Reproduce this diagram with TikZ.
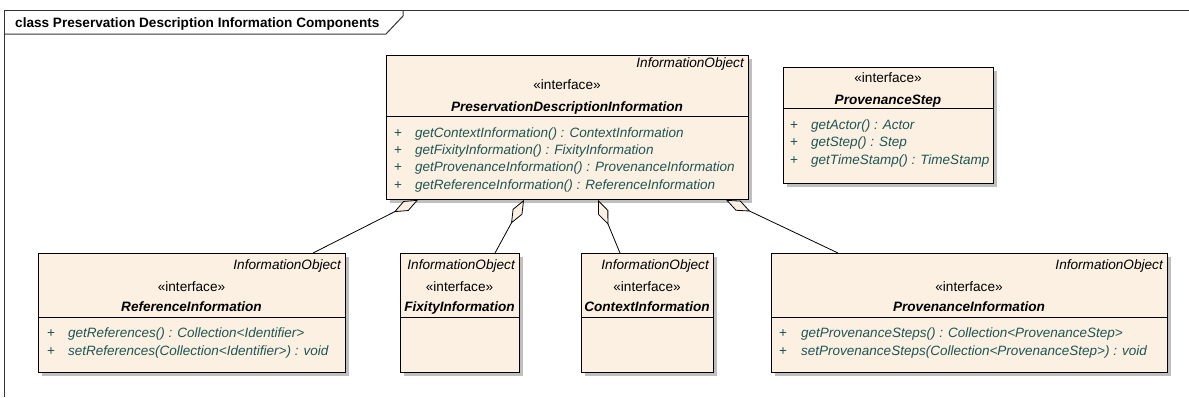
\documentclass[tikz,border=0pt]{standalone}
\usepackage{fontspec}
\setmainfont{Liberation Sans}
\usetikzlibrary{arrows.meta, positioning, shadows}
\definecolor{boxfill}{RGB}{251,240,225}
\definecolor{opcolor}{RGB}{30,85,85}
\tikzset{%
	cls/.style={draw, rectangle, anchor=north west, inner sep=0mm, line width=0.9pt, fill=boxfill,%
		drop shadow={shadow xshift=4pt, shadow yshift=-4pt, fill=black!25, opacity=1}},
	txt/.style={inner sep=0mm, font=\fontsize{13.6}{17}\selectfont},
	parent/.style={txt, anchor=base east, font=\fontsize{13.6}{17}\selectfont\itshape},
	stereo/.style={txt, anchor=base},
	cname/.style={txt, anchor=base, font=\fontsize{13.6}{17}\selectfont\bfseries\itshape},
	plus/.style={txt, anchor=base west, text=opcolor},
	op/.style={txt, anchor=base west, text=opcolor, font=\fontsize{13.5}{17}\selectfont\itshape},
	divider/.style={line width=0.9pt},
	agg/.style={{Diamond[fill=boxfill, length=27pt, width=11pt]}-, line width=0.8pt},
	frame/.style={draw=black!80, line width=1pt},
	title/.style={txt, anchor=base west, font=\fontsize{13.6}{17}\selectfont\bfseries}
}
\begin{document}
\begin{tikzpicture}[x=1pt, y=-1pt]
	\useasboundingbox (0,0) rectangle (1189,397);
	% diagram frame
	\draw[frame] (1189,10) -- (4,10) -- (4,397);
	\draw[frame] (4,34) -- (386,34) -- (403,16) -- (403,10);
	\node[title] (title) at (15,27) {class Preservation Description Information Components};

	% classes
	\node[cls, minimum width=362pt, minimum height=144pt] (pdi) at (386,55) {};
	\node[cls, minimum width=210pt, minimum height=116pt] (step) at (783,67) {};
	\node[cls, minimum width=307pt, minimum height=119pt] (ref) at (38,253) {};
	\node[cls, minimum width=119pt, minimum height=119pt] (fix) at (400,253) {};
	\node[cls, minimum width=132pt, minimum height=119pt] (ctx) at (581,253) {};
	\node[cls, minimum width=396pt, minimum height=119pt] (prov) at (771,253) {};

	\draw[divider] (pdi.west |- 0,116) -- (pdi.east |- 0,116);
	\draw[divider] (step.west |- 0,108) -- (step.east |- 0,108);
	\draw[divider] (ref.west |- 0,317) -- (ref.east |- 0,317);
	\draw[divider] (fix.west |- 0,317) -- (fix.east |- 0,317);
	\draw[divider] (ctx.west |- 0,317) -- (ctx.east |- 0,317);
	\draw[divider] (prov.west |- 0,317) -- (prov.east |- 0,317);

	% PreservationDescriptionInformation
	\node[parent] (pdi-io) at (744,67.5) {InformationObject};
	\node[stereo] (pdi-st) at (567,89.5) {«interface»};
	\node[cname] (pdi-name) at (567,111.5) {PreservationDescriptionInformation};
	\node[plus] (pdi-p1) at (394,137.5) {+};
	\node[plus] (pdi-p2) at (394,154.5) {+};
	\node[plus] (pdi-p3) at (394,171.5) {+};
	\node[plus] (pdi-p4) at (394,189) {+};
	\node[op] (pdi-op1) at (415,137.5) {getContextInformation() : ContextInformation};
	\node[op] (pdi-op2) at (415,154.5) {getFixityInformation() : FixityInformation};
	\node[op] (pdi-op3) at (415,171.5) {getProvenanceInformation() : ProvenanceInformation};
	\node[op] (pdi-op4) at (415,189) {getReferenceInformation() : ReferenceInformation};

	% ProvenanceStep
	\node[stereo] (step-st) at (888,82.5) {«interface»};
	\node[cname] (step-name) at (888,104.5) {ProvenanceStep};
	\node[plus] (step-p1) at (790,129.5) {+};
	\node[plus] (step-p2) at (790,146.5) {+};
	\node[plus] (step-p3) at (790,164) {+};
	\node[op] (step-op1) at (811,129.5) {getActor() : Actor};
	\node[op] (step-op2) at (811,146.5) {getStep() : Step};
	\node[op] (step-op3) at (811,164) {getTimeStamp() : TimeStamp};

	% ReferenceInformation
	\node[parent] (ref-io) at (341,269.5) {InformationObject};
	\node[stereo] (ref-st) at (191.5,291.5) {«interface»};
	\node[cname] (ref-name) at (191.5,311.5) {ReferenceInformation};
	\node[plus] (ref-p1) at (47,337.5) {+};
	\node[plus] (ref-p2) at (47,355.5) {+};
	\node[op] (ref-op1) at (68,337.5) {getReferences() : Collection<Identifier>};
	\node[op] (ref-op2) at (68,355.5) {setReferences(Collection<Identifier>) : void};

	% FixityInformation
	\node[parent] (fix-io) at (515,269.5) {InformationObject};
	\node[stereo] (fix-st) at (459.5,291.5) {«interface»};
	\node[cname] (fix-name) at (459.5,311.5) {FixityInformation};

	% ContextInformation
	\node[parent] (ctx-io) at (709,269.5) {InformationObject};
	\node[stereo] (ctx-st) at (647,291.5) {«interface»};
	\node[cname] (ctx-name) at (647,311.5) {ContextInformation};

	% ProvenanceInformation
	\node[parent] (prov-io) at (1163,269.5) {InformationObject};
	\node[stereo] (prov-st) at (969,291.5) {«interface»};
	\node[cname] (prov-name) at (969,311.5) {ProvenanceInformation};
	\node[plus] (prov-p1) at (779,337.5) {+};
	\node[plus] (prov-p2) at (779,355.5) {+};
	\node[op] (prov-op1) at (801,337.5) {getProvenanceSteps() : Collection<ProvenanceStep>};
	\node[op] (prov-op2) at (801,355.5) {setProvenanceSteps(Collection<ProvenanceStep>) : void};

	% aggregations
	\draw[agg] ([xshift=32pt]pdi.south west) -- ([xshift=275pt]ref.north west);
	\draw[agg] ([xshift=138pt]pdi.south west) -- ([xshift=95pt]fix.north west);
	\draw[agg] ([xshift=212pt]pdi.south west) -- ([xshift=39pt]ctx.north west);
	\draw[agg] ([xshift=340pt]pdi.south west) -- ([xshift=67pt]prov.north west);
\end{tikzpicture}
\end{document}
